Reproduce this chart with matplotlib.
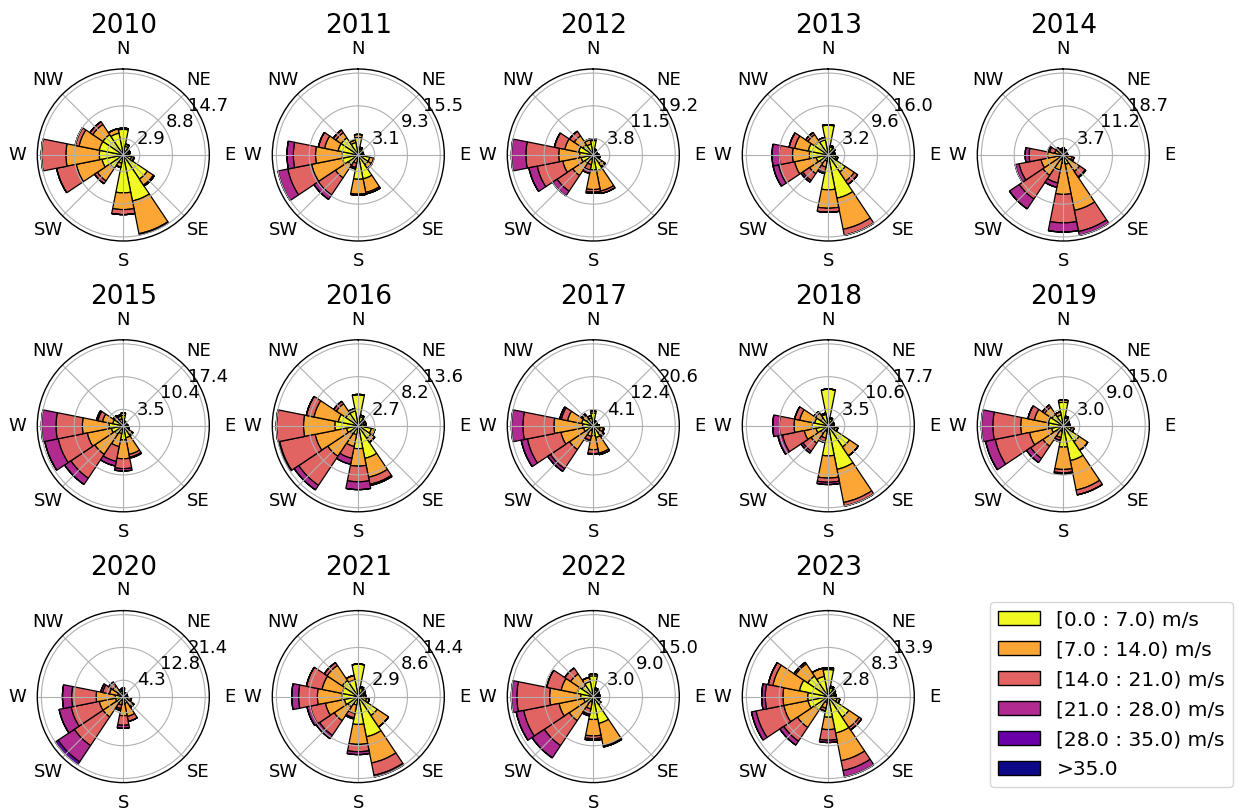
import numpy as np
import matplotlib
matplotlib.use("Agg")
import matplotlib.pyplot as plt
from matplotlib import transforms
from matplotlib.patches import Patch

# 16 sectors, clockwise from north
directions = ["N", "NNE", "NE", "ENE", "E", "ESE", "SE", "SSE",
              "S", "SSW", "SW", "WSW", "W", "WNW", "NW", "NNW"]
compass_labels = ["N", "NE", "E", "SE", "S", "SW", "W", "NW"]
bin_labels = ["[0.0 : 7.0) m/s", "[7.0 : 14.0) m/s", "[14.0 : 21.0) m/s",
              "[21.0 : 28.0) m/s", "[28.0 : 35.0) m/s", ">35.0"]
years = list(range(2010, 2024))

# Frequency (%) per direction, split by speed bin (0-7, 7-14, 14-21, 21-28, 28-35 m/s)
freq_2010 = [[4.6, 0.2], [1.6, 0.4], [1.0, 0.3], [1.0, 0.3], [0.9, 0.2], [1.5, 0.4, 0.1],
             [5.2, 1.3, 0.2], [8.4, 6.0, 0.2], [6.8, 3.0, 0.9], [1.5, 0.7, 0.1],
             [2.9, 2.7, 0.6], [3.9, 4.7, 3.6], [4.3, 6.0, 4.4], [4.4, 3.7, 0.7],
             [4.4, 2.2, 0.6], [4.0, 0.8]]
freq_2011 = [[3.3, 0.6], [1.2, 0.3], [0.8, 0.2], [0.8, 0.2], [0.8, 0.2], [2.2, 0.8],
             [2.2, 0.8, 0.1], [4.6, 2.6, 0.3], [4.6, 2.8, 0.2], [0.7, 0.9, 0.8, 0.3],
             [2.3, 2.9, 3.9, 1.0], [3.1, 5.9, 4.6, 1.9], [3.1, 5.0, 4.2, 1.2],
             [3.9, 2.6, 1.2], [3.9, 1.2, 0.6], [2.4, 0.5]]
freq_2012 = [[3.4, 0.4], [1.2, 0.2], [0.8, 0.2], [0.8, 0.2], [1.0, 0.3], [1.2, 0.4],
             [2.4, 0.8, 0.2], [3.8, 4.8, 0.6], [3.5, 4.6, 0.6, 0.3], [1.0, 1.3, 1.3, 0.8],
             [2.3, 3.5, 4.4, 1.3], [2.9, 4.4, 6.1, 2.0], [3.2, 4.9, 7.7, 3.4],
             [3.5, 3.3, 2.5], [2.9, 2.5, 1.3], [2.6, 1.0, 0.2]]
freq_2013 = [[5.8, 0.1], [1.6, 0.3], [1.3, 0.3], [1.0, 0.3], [1.0, 0.3], [1.5, 0.4],
             [4.0, 2.1, 0.8], [8.6, 6.2, 1.2], [6.8, 3.6, 0.8], [1.2, 1.2, 0.9, 0.4],
             [2.0, 2.4, 1.6, 0.4], [2.4, 4.3, 3.2, 1.1], [3.7, 3.3, 2.6, 1.4],
             [4.0, 2.7, 1.1], [3.2, 1.6, 0.5], [3.0, 0.5]]
freq_2014 = [[0.8, 0.6, 0.2], [0.6, 0.5, 0.2], [0.5, 0.4], [0.5, 0.4], [0.6, 0.5],
             [0.8, 1.2, 0.5], [1.5, 3.0, 1.5, 0.2], [2.2, 10.7, 4.9, 0.9],
             [1.9, 7.1, 6.5, 2.1], [1.0, 2.5, 3.0, 1.0], [0.9, 4.7, 6.5, 2.7],
             [0.9, 4.3, 5.1, 0.9], [0.8, 2.8, 4.2, 0.9], [0.5, 1.5, 1.2, 0.4],
             [0.5, 0.8, 0.6, 0.2], [0.6, 0.6, 0.3]]
freq_2015 = [[2.2, 0.5], [0.8, 0.2], [0.6, 0.2], [0.6, 0.2], [0.8, 0.2], [1.0, 0.3],
             [1.5, 0.8, 0.2], [2.6, 3.6, 0.6, 0.2], [3.0, 4.0, 2.1, 0.5],
             [1.7, 2.8, 3.2, 1.0], [2.1, 5.2, 6.1, 1.6], [2.6, 5.2, 6.3, 2.9],
             [3.0, 5.7, 5.6, 3.1], [2.3, 2.2, 1.0, 0.3], [1.5, 0.8, 0.3], [1.5, 0.6, 0.3]]
freq_2016 = [[5.2], [1.5, 0.3], [1.0, 0.3], [1.0, 0.3], [1.0, 0.3], [2.2, 0.6],
             [2.5, 0.8], [5.5, 3.2, 1.2, 0.2], [3.8, 2.9, 2.6, 1.3], [1.5, 2.0, 2.0, 1.0],
             [1.6, 4.5, 5.8, 0.9], [2.0, 5.3, 6.0, 0.2], [3.9, 5.2, 4.5],
             [3.4, 4.1, 1.3], [2.5, 1.9, 0.5], [2.5, 0.4]]
freq_2017 = [[3.2, 0.5], [1.0, 0.3], [0.8, 0.3], [0.8, 0.3], [1.2, 0.3], [1.8, 0.8, 0.2],
             [2.0, 1.0, 0.3], [3.0, 4.0, 0.4], [2.5, 3.5, 1.0, 0.2], [1.2, 1.5, 1.0, 0.4],
             [2.1, 5.1, 5.8, 0.8], [2.5, 5.8, 8.6, 1.6], [2.7, 7.2, 7.8, 2.9],
             [3.0, 3.6, 1.6, 0.4], [2.0, 1.2, 0.4], [2.0, 0.6]]
freq_2018 = [[7.9], [1.5, 0.3], [1.0, 0.3], [1.0, 0.3], [1.0, 0.3], [1.5, 0.6],
             [5.5, 2.3], [9.6, 7.3, 0.8], [6.5, 4.8, 0.9, 0.5], [1.2, 1.5, 0.8, 0.2],
             [2.0, 2.5, 2.1, 0.5], [2.7, 2.6, 4.8, 1.0], [3.5, 3.9, 3.2, 1.4],
             [3.0, 3.3, 1.1], [2.0, 1.3, 0.4], [2.5, 0.3]]
freq_2019 = [[4.3, 0.4], [1.5, 0.3], [1.0, 0.3], [0.9, 0.3], [0.9, 0.3], [1.5, 0.5],
             [3.5, 1.9], [6.5, 5.5, 0.9], [3.9, 4.1, 0.6, 0.2], [1.0, 1.2, 0.5, 0.3],
             [1.5, 3.0, 2.7, 0.9], [2.2, 4.1, 6.4, 1.8], [2.7, 5.1, 5.1, 2.1],
             [2.8, 2.6, 1.2], [2.5, 1.6, 0.5], [2.0, 0.6]]
freq_2020 = [[1.7, 0.5], [0.8, 0.3], [0.8, 0.3], [0.8, 0.3], [0.8, 0.3], [1.2, 0.8, 0.2],
             [1.5, 1.5, 0.4], [1.8, 3.5, 1.3], [2.0, 3.0, 2.5, 0.8], [1.0, 1.2, 1.0, 0.5],
             [2.1, 4.3, 9.0, 5.1, 0.9], [2.1, 4.3, 7.5, 3.2], [2.1, 5.0, 6.4, 2.4],
             [1.5, 2.2, 1.8, 0.5], [1.5, 1.8, 1.0, 0.3], [1.5, 0.5]]
freq_2021 = [[5.7], [1.5, 0.3], [1.2, 0.3], [1.0, 0.3], [1.0, 0.3], [1.5, 0.5],
             [4.0, 2.4], [7.2, 4.7, 2.2, 0.3], [4.9, 3.5, 1.3, 0.5], [1.5, 1.5, 0.8, 0.2],
             [2.2, 2.9, 3.1, 0.7], [2.5, 3.4, 2.7, 0.6], [2.9, 4.3, 3.3, 1.2],
             [2.9, 3.6, 2.8], [3.4, 3.2, 0.6], [3.0, 0.8]]
freq_2022 = [[3.8, 0.3], [1.3, 0.3], [1.0, 0.3], [0.9, 0.3], [0.9, 0.3], [0.9, 0.3],
             [1.2, 0.5], [5.0, 4.2, 0.2], [4.2, 3.0, 0.5, 0.3], [1.0, 1.3, 1.0, 0.3],
             [1.5, 3.8, 5.5, 2.7], [1.8, 4.6, 6.6, 1.4], [2.3, 5.7, 6.0, 1.0],
             [3.0, 3.0, 2.7], [2.5, 2.5, 1.3], [2.8, 0.8]]
freq_2023 = [[4.6, 0.3], [1.5, 0.3], [1.2, 0.3], [1.0, 0.3], [1.0, 0.3], [1.5, 0.5],
             [4.2, 2.1, 0.5], [6.3, 4.8, 1.7, 1.1], [3.5, 2.1, 1.8, 0.4], [1.0, 1.0, 0.5],
             [2.8, 3.5, 2.8, 0.8], [3.5, 4.2, 4.8, 0.8], [3.5, 4.2, 3.0, 0.6],
             [5.0, 4.6, 0.8], [4.2, 2.5, 0.3], [3.5, 1.4]]

year_freqs = [freq_2010, freq_2011, freq_2012, freq_2013, freq_2014, freq_2015, freq_2016,
              freq_2017, freq_2018, freq_2019, freq_2020, freq_2021, freq_2022, freq_2023]

N_BINS = 5
colors = plt.cm.plasma_r(np.linspace(0, 1, 6))


def to_table(freq):
    """Pad each direction to N_BINS speed bins -> array (bins, directions)."""
    rows = [list(v) + [0.0] * (N_BINS - len(v)) for v in freq]
    return np.array(rows, dtype=float).T


W_PX, H_PX = 1238, 811
fig = plt.figure(figsize=(W_PX / 100, H_PX / 100), dpi=100)

R = 86            # polar radius in pixels
X0, DX = 123.3, 235.0
Y0, DY = 155.0, 270.8

theta = np.deg2rad(np.arange(16) * 22.5)
width = 2 * np.pi / 16

for k, (year, freq) in enumerate(zip(years, year_freqs)):
    row, col = divmod(k, 5)
    cx = X0 + DX * col
    cy = Y0 + DY * row
    ax = fig.add_axes([(cx - R) / W_PX, 1 - (cy + R) / H_PX, 2 * R / W_PX, 2 * R / H_PX],
                      projection="polar")
    ax.set_theta_zero_location("N")
    ax.set_theta_direction(-1)

    table = to_table(freq)
    bottom = np.zeros(16)
    for b in range(N_BINS):
        ax.bar(theta, table[b], width=width, bottom=bottom, color=colors[b],
               edgecolor="black", linewidth=0.9, align="center")
        bottom = bottom + table[b]

    top = bottom.max()
    ax.set_ylim(0, top * 1.05)
    rings = [top * 0.2, top * 0.6, top]
    ax.set_yticks(rings)
    ax.set_yticklabels([])
    label_tf = transforms.offset_copy(ax.transData, fig=fig, x=13.9, y=8, units="dots")
    for r in rings:
        ax.text(np.deg2rad(60), r, f"{r:.1f}", transform=label_tf,
                ha="center", va="center", fontsize=13)

    ax.set_xticks(np.deg2rad(np.arange(0, 360, 45)))
    ax.set_xticklabels(compass_labels, fontsize=13)
    ax.tick_params(axis="x", pad=4)
    ax.grid(True, color="#b0b0b0", linewidth=0.8)
    ax.spines["polar"].set_linewidth(1.0)

    fig.text(cx / W_PX, 1 - (cy - 122) / H_PX, str(year), ha="center", va="baseline",
             fontsize=19)

handles = [Patch(facecolor=colors[i], edgecolor="black", label=bin_labels[i])
           for i in range(6)]
fig.legend(handles=handles, loc="upper left", bbox_to_anchor=(990 / W_PX, 1 - 602 / H_PX),
           fontsize=14.5, handlelength=2.1, labelspacing=0.55, borderaxespad=0.0)

fig.savefig("out.png", dpi=100)
